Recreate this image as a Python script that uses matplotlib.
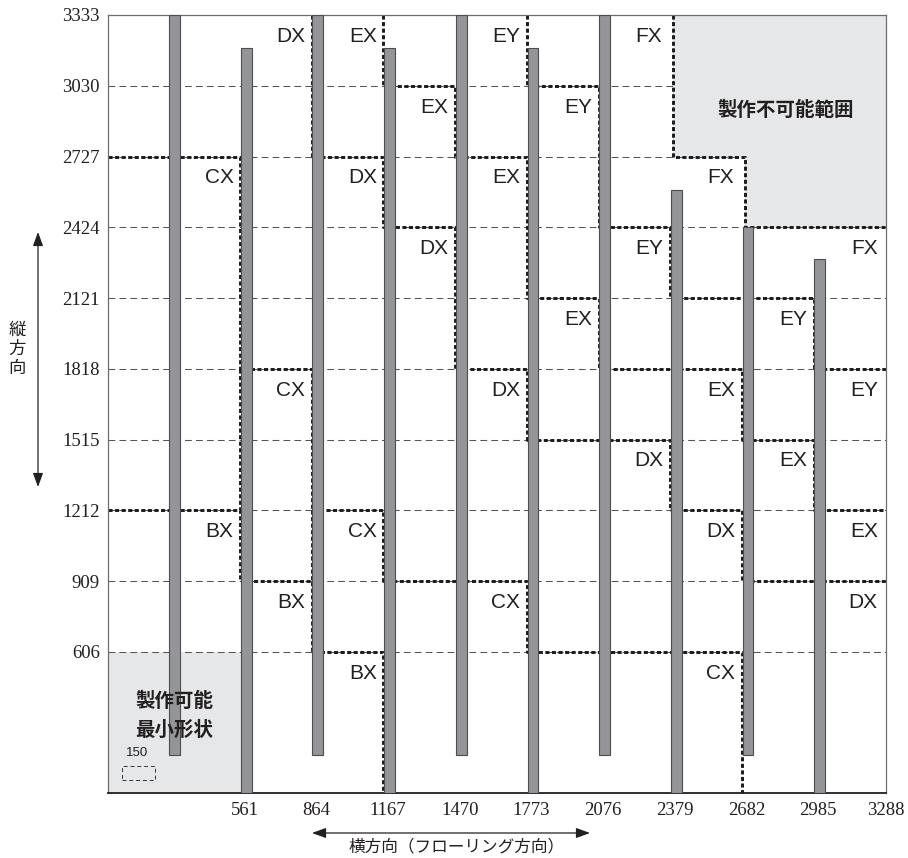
import matplotlib.pyplot as plt
from matplotlib.patches import Rectangle, Polygon
import matplotlib.transforms as mtransforms

# ribs: left edge, bottom and top (mm)
bar_x = [258, 561, 864, 1167, 1470, 1773, 2076, 2379, 2682, 2985]
bar_bottom = [165, 0, 165, 0, 165, 0, 165, 0, 165, 0]
bar_top = [3333, 3190, 3333, 3190, 3333, 3190, 3333, 2585, 2424, 2287]
bar_w = 46

x_ticks = [561, 864, 1167, 1470, 1773, 2076, 2379, 2682, 2985, 3288]
y_ticks = [606, 909, 1212, 1515, 1818, 2121, 2424, 2727, 3030, 3333]
XMAX, YMAX = 3288, 3333

# type boundaries (staircases)
bx_line = [(0, 1212), (561, 1212), (561, 909), (864, 909), (864, 606), (1167, 606), (1167, 0)]
cx_line = [(0, 2727), (561, 2727), (561, 1818), (864, 1818), (864, 1212), (1167, 1212),
           (1167, 909), (1773, 909), (1773, 606), (2682, 606), (2682, 0)]
dx_line = [(864, 3333), (864, 2727), (1167, 2727), (1167, 2424), (1470, 2424), (1470, 1818),
           (1773, 1818), (1773, 1515), (2379, 1515), (2379, 1212), (2682, 1212), (2682, 909), (3288, 909)]
ex_line = [(1167, 3333), (1167, 3030), (1470, 3030), (1470, 2727), (1773, 2727), (1773, 2121),
           (2076, 2121), (2076, 1818), (2682, 1818), (2682, 1515), (2985, 1515), (2985, 1212), (3288, 1212)]
ey_line = [(1773, 3333), (1773, 3030), (2076, 3030), (2076, 2424), (2379, 2424), (2379, 2121),
           (2985, 2121), (2985, 1818), (3288, 1818)]
fx_line = [(2387, 3333), (2387, 2727), (2690, 2727), (2690, 2424), (3288, 2424)]
# short vertical joins between CX and BX
joins = [(561, 1818, 1212), (864, 1212, 909)]

steps = [("BX", bx_line, 31, -3), ("CX", cx_line, 31, -3), ("DX", dx_line, 31, -3),
         ("EX", ex_line, 31, -3), ("EY", ey_line, 31, -3), ("FX", fx_line, 45, 0)]

latin = "Liberation Sans"
serif = "Liberation Serif"
cjk = ["Noto Sans CJK JP", "DejaVu Sans"]
ink = "#231f20"
dots = dict(color="#1a1a1a", lw=2.1, ls=(0, (1.4, 0.85)), zorder=2, clip_on=False)

fig = plt.figure(figsize=(9.08, 8.58), dpi=100)
ax = fig.add_axes([108 / 908, 1 - 793.3 / 858, 778 / 908, 778.3 / 858])
ax.set_xlim(0, XMAX)
ax.set_ylim(0, YMAX)

# grid
for y in y_ticks[:-1]:
    ax.axhline(y, color="#555555", lw=0.75, ls=(0, (6.5, 4)), zorder=1)

# gray zones
ax.add_patch(Rectangle((0, 0), 561, 606, facecolor="#e6e7e8", edgecolor="none", zorder=0.5))
ax.add_patch(Polygon(fx_line + [(XMAX, YMAX)], closed=True, facecolor="#e6e7e8",
                     edgecolor="none", zorder=1.5))

# ribs
for x, b, t in zip(bar_x, bar_bottom, bar_top):
    ax.add_patch(Rectangle((x, b), bar_w, t - b, facecolor="#939598",
                           edgecolor="#4d4d4f", lw=0.8, zorder=3))

# boundaries + labels
for name, pts, gap, dx in steps:
    xs = [p[0] + dx if 0 < p[0] < XMAX else p[0] for p in pts]
    ax.plot(xs, [p[1] for p in pts], **dots)
    for i, (x, y) in enumerate(pts):
        last = i == len(pts) - 1
        if not last and pts[i + 1][0] == x and pts[i + 1][1] < y:
            ax.text(x - gap, y - 115, name, ha="right", va="baseline",
                    fontsize=15, family=latin, color=ink, zorder=5)
        elif last and x == XMAX:
            ax.text(XMAX - 35, y - 115, name, ha="right", va="baseline",
                    fontsize=15, family=latin, color=ink, zorder=5)
for x, y0, y1 in joins:
    ax.plot([x - 3, x - 3], [y0, y1], **dots)

# region texts
ax.text(2863, 2926, "製作不可能範囲", ha="center", va="center", fontsize=14,
        family=cjk, weight="bold", color=ink, zorder=5)
ax.text(279, 392, "製作可能", ha="center", va="center", fontsize=14,
        family=cjk, weight="bold", color=ink, zorder=5)
ax.text(279, 271, "最小形状", ha="center", va="center", fontsize=14,
        family=cjk, weight="bold", color=ink, zorder=5)
ax.text(125, 172, "150", ha="center", va="center", fontsize=9.5, family=latin, color=ink, zorder=5)
ax.add_patch(Rectangle((58, 57), 141, 61, facecolor="none", edgecolor="#333333",
                       lw=0.7, ls=(0, (4, 3)), zorder=5))

# axes styling
ax.set_xticks(x_ticks)
ax.set_xticklabels([str(v) for v in x_ticks], family=serif, fontsize=13.5, color=ink)
ax.set_yticks(y_ticks)
ax.set_yticklabels([str(v) for v in y_ticks], family=serif, fontsize=13.5, color=ink)
ax.tick_params(axis="both", length=0)
ax.tick_params(axis="y", pad=6)
ax.tick_params(axis="x", pad=6)
shift = mtransforms.ScaledTranslation(4 / 100, 0, fig.dpi_scale_trans)
for lab in ax.get_xticklabels()[:-1]:
    lab.set_transform(lab.get_transform() + shift)
for side in ["left", "top", "right"]:
    ax.spines[side].set_color("#6d6e71")
    ax.spines[side].set_linewidth(0.9)
ax.spines["bottom"].set_color("#231f20")
ax.spines["bottom"].set_linewidth(1.3)

# direction arrows and captions
arrow = dict(arrowstyle="<|-|>,head_length=0.6,head_width=0.22", color="#231f20",
             lw=0.9, mutation_scale=14, shrinkA=0, shrinkB=0)
ax.annotate("", xy=(38, 858 - 232), xytext=(38, 858 - 487), xycoords="figure pixels",
            textcoords="figure pixels", arrowprops=arrow, annotation_clip=False)
ax.annotate("", xy=(312, 858 - 833), xytext=(590, 858 - 833), xycoords="figure pixels",
            textcoords="figure pixels", arrowprops=arrow, annotation_clip=False)
fig.text(17 / 908, 1 - 349 / 858, "縦\n方\n向", ha="center", va="center", fontsize=12.5,
         family=cjk, color=ink, linespacing=1.1)
fig.text(457 / 908, 1 - 846.5 / 858, "横方向（フローリング方向）", ha="center", va="center",
         fontsize=12, family=cjk, color=ink)

fig.savefig("out.png", dpi=100)
